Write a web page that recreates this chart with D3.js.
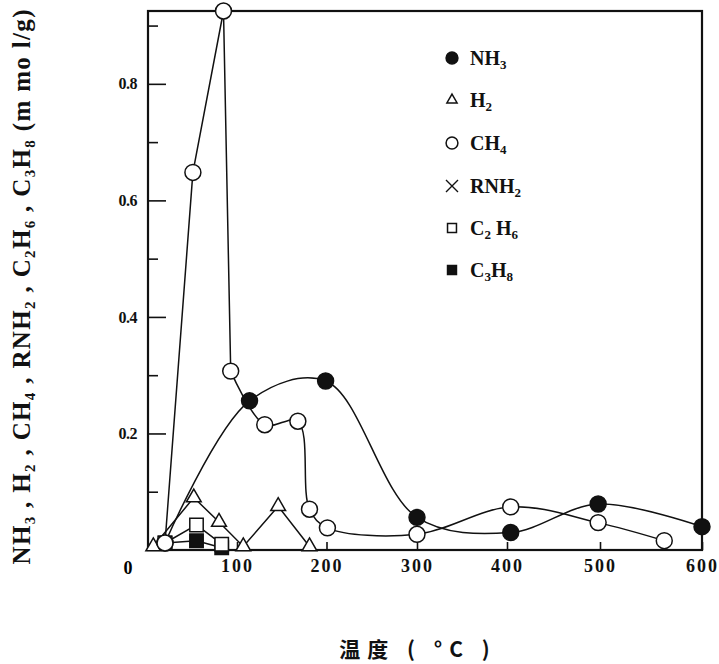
<!DOCTYPE html>
<html>
<head>
<meta charset="utf-8">
<script src="https://cdn.jsdelivr.net/npm/d3@7"></script>
<style>
  body { margin: 0; background: #fff; }
  svg { display: block; }
  .tick text { font-family: "Liberation Serif", serif; font-weight: bold; fill: #111; }
  .tick line { stroke: #111; stroke-width: 1.6; }
</style>
</head>
<body>
<div id="chart"></div>
<script>
var svgWidth = 719;
var svgHeight = 664;

// data (temperature in °C, amount in mmol/g)
var nh3Temp = [20, 114, 199, 300, 404, 498, 600];
var nh3Val = [0.012, 0.256, 0.290, 0.056, 0.030, 0.079, 0.040];

var h2Temp = [7, 52, 80, 107, 146, 181];
var h2Val = [0.006, 0.090, 0.048, 0.006, 0.075, 0.006];

var ch4Temp = [20, 51, 85, 93, 131, 168, 181, 201, 300, 404, 498, 563];
var ch4Val = [0.012, 0.648, 0.925, 0.307, 0.215, 0.221, 0.070, 0.038, 0.027, 0.074, 0.047, 0.016];
var ch4SharpUntil = 3; // first points joined by straight segments

var c2h6Temp = [20, 55, 83];
var c2h6Val = [0.012, 0.043, 0.010];

var c3h8Temp = [20, 55, 83];
var c3h8Val = [0.012, 0.016, 0.004];

var xTicks = [100, 200, 300, 400, 500, 600];
var yMajor = [0.2, 0.4, 0.6, 0.8];
var yMinor = [0.1, 0.3, 0.5, 0.7, 0.9];

// axis on the figure is hand drawn, so the scale is piecewise
var xTickDomain = [0, 100, 200, 300, 400, 500, 600];
var xTickRange = [147, 237, 326.5, 417, 507, 600, 702];

var plot = { left: 148, right: 702, top: 11, bottom: 550 };

var svg = d3.select("#chart")
  .append("svg")
  .attr("width", svgWidth)
  .attr("height", svgHeight);

var xScale = d3.scaleLinear().domain(xTickDomain).range(xTickRange);
var yScale = d3.scaleLinear().domain([0, 0.925]).range([plot.bottom, plot.top]);

function zip(t, v) {
  return t.map(function(d, i) { return { t: d, v: v[i] }; });
}

var nh3 = zip(nh3Temp, nh3Val);
var h2 = zip(h2Temp, h2Val);
var ch4 = zip(ch4Temp, ch4Val);
var c2h6 = zip(c2h6Temp, c2h6Val);
var c3h8 = zip(c3h8Temp, c3h8Val);

// frame
svg.append("rect")
  .attr("x", plot.left)
  .attr("y", plot.top)
  .attr("width", plot.right - plot.left)
  .attr("height", plot.bottom - plot.top)
  .attr("fill", "none")
  .attr("stroke", "#111")
  .attr("stroke-width", 2.2);

// y axis: ticks point inward
var yAxis = svg.append("g")
  .attr("transform", `translate(${plot.left},0)`)
  .call(d3.axisLeft(yScale).tickValues(yMajor).tickSizeInner(-18).tickSizeOuter(0)
    .tickPadding(11).tickFormat(d3.format(".1f")));
yAxis.select(".domain").remove();
yAxis.selectAll("text").style("font-size", "16px").attr("letter-spacing", "-0.5");

var yMinorAxis = svg.append("g")
  .attr("transform", `translate(${plot.left},0)`)
  .call(d3.axisLeft(yScale).tickValues(yMinor).tickSizeInner(-10).tickSizeOuter(0).tickFormat(""));
yMinorAxis.select(".domain").remove();

// x axis
var xAxis = svg.append("g")
  .attr("transform", `translate(0,${plot.bottom})`)
  .call(d3.axisBottom(xScale).tickValues(xTicks).tickSizeInner(-8).tickSizeOuter(0).tickPadding(9));
xAxis.select(".domain").remove();
xAxis.selectAll("text").style("font-size", "18px").attr("letter-spacing", "2");

// shared origin label
svg.append("text")
  .attr("x", 128)
  .attr("y", 574)
  .attr("text-anchor", "middle")
  .style("font-family", "Liberation Serif, serif")
  .style("font-weight", "bold")
  .style("font-size", "18px")
  .text("0");

// lines
var line = d3.line()
  .x(d => xScale(d.t))
  .y(d => yScale(d.v));

var smooth = d3.line()
  .x(d => xScale(d.t))
  .y(d => yScale(d.v))
  .curve(d3.curveCatmullRom.alpha(0.5));

var lines = svg.append("g")
  .attr("fill", "none")
  .attr("stroke", "#111")
  .attr("stroke-width", 1.5);

lines.append("path").attr("d", line(c3h8));
lines.append("path").attr("d", line(c2h6));
lines.append("path").attr("d", line(h2));
lines.append("path").attr("d", smooth(nh3));
lines.append("path").attr("d", line(ch4.slice(0, ch4SharpUntil + 1)));
lines.append("path").attr("d", smooth(ch4.slice(ch4SharpUntil)));

// markers
function drawMarkers(data, type, size, fill) {
  svg.append("g").selectAll("path")
    .data(data)
    .enter()
    .append("path")
    .attr("transform", d => `translate(${xScale(d.t)},${yScale(d.v)})`)
    .attr("d", d3.symbol().type(type).size(size))
    .attr("fill", fill)
    .attr("stroke", "#111")
    .attr("stroke-width", 1.5);
}

drawMarkers(c3h8, d3.symbolSquare, 180, "#111");
drawMarkers(c2h6, d3.symbolSquare, 180, "#fff");
drawMarkers(h2, d3.symbolTriangle, 95, "#fff");
drawMarkers(nh3, d3.symbolCircle, 200, "#111");
drawMarkers(ch4, d3.symbolCircle, 200, "#fff");

// legend
var legendItems = [
  { base: ["NH", "3"], type: d3.symbolCircle, size: 110, fill: "#111" },
  { base: ["H", "2"], type: d3.symbolTriangle, size: 45, fill: "#fff" },
  { base: ["CH", "4"], type: d3.symbolCircle, size: 110, fill: "#fff" },
  { base: ["RNH", "2"], type: d3.symbolCross, size: 0, fill: "none" },
  { base: ["C", "2", " H", "6"], type: d3.symbolSquare, size: 80, fill: "#fff" },
  { base: ["C", "3", "H", "8"], type: d3.symbolSquare, size: 80, fill: "#111" }
];
var legendY = [58, 100, 143, 186, 228, 270];

var legend = svg.append("g");
legendItems.forEach(function(item, i) {
  var g = legend.append("g").attr("transform", `translate(452,${legendY[i]})`);
  if (item.base[0] === "RNH") {
    g.append("path")
      .attr("d", "M-6,-6L6,6M6,-6L-6,6")
      .attr("stroke", "#111")
      .attr("stroke-width", 1.4);
  } else {
    g.append("path")
      .attr("d", d3.symbol().type(item.type).size(item.size))
      .attr("fill", item.fill)
      .attr("stroke", "#111")
      .attr("stroke-width", 1.5);
  }
  var t = g.append("text")
    .attr("x", 18)
    .attr("y", 7)
    .style("font-family", "Liberation Serif, serif")
    .style("font-weight", "bold")
    .style("font-size", "20px")
    .attr("fill", "#111");
  item.base.forEach(function(s, k) {
    var sub = k % 2 === 1;
    t.append("tspan")
      .attr("dy", sub ? 4 : (k > 0 ? -4 : 0))
      .style("font-size", sub ? "13px" : "20px")
      .text(s);
  });
});

// y title, rotated
var yTitleParts = [
  ["NH", 0], ["3", 1], [" , H", 0], ["2", 1], [" , CH", 0], ["4", 1], [" , RNH", 0], ["2", 1],
  [" , C", 0], ["2", 1], ["H", 0], ["6", 1], [" , C", 0], ["3", 1], ["H", 0], ["8", 1], [" (m mo l/g)", 0]
];
var yTitle = svg.append("text")
  .attr("transform", "translate(30,287) rotate(-90)")
  .attr("text-anchor", "middle")
  .attr("textLength", 555)
  .attr("lengthAdjust", "spacing")
  .style("font-family", "Liberation Serif, serif")
  .style("font-weight", "bold")
  .style("font-size", "25px")
  .attr("fill", "#111");
yTitleParts.forEach(function(p, k) {
  var prevSub = k > 0 && yTitleParts[k - 1][1] === 1;
  yTitle.append("tspan")
    .attr("dy", p[1] ? 5 : (prevSub ? -5 : 0))
    .style("font-size", p[1] ? "15px" : "25px")
    .text(p[0]);
});

// x title
svg.append("text")
  .attr("x", 418)
  .attr("y", 657)
  .attr("text-anchor", "middle")
  .style("font-family", "Noto Sans CJK SC, sans-serif")
  .style("font-size", "21px")
  .style("font-weight", "bold")
  .attr("letter-spacing", "7")
  .attr("fill", "#111")
  .text("温度 ( °C )");
</script>
</body>
</html>
